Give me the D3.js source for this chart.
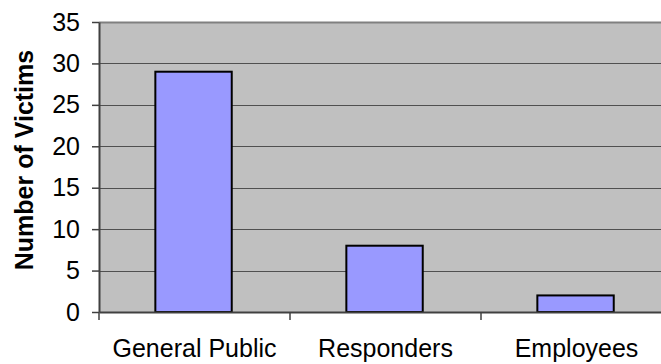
<!DOCTYPE html>
<html>
<head>
<meta charset="utf-8">
<script src="https://cdn.jsdelivr.net/npm/d3@7"></script>
<style>
  html, body { margin: 0; padding: 0; background: #fff; }
  svg { display: block; font-family: Arial, "Liberation Sans", sans-serif; }
</style>
</head>
<body>
<svg id="chart" width="661" height="364"></svg>
<script>
// Victims by group
const categories = ["General Public", "Responders", "Employees"];
const victims = [29, 8, 2];
const yTicks = [0, 5, 10, 15, 20, 25, 30, 35];

const svg = d3.select("#chart");
const plotLeft = 99, plotRight = 672, plotTop = 22, plotBottom = 312;
const fontSize = 25;

const x = d3.scaleBand().domain(categories).range([plotLeft, plotRight]).padding(0);
const y = d3.scaleLinear().domain([0, 35]).range([plotBottom, plotTop]);

// plot background
svg.append("rect")
  .attr("x", plotLeft).attr("y", plotTop)
  .attr("width", plotRight - plotLeft).attr("height", plotBottom - plotTop)
  .attr("fill", "#c0c0c0");

// top border
svg.append("line")
  .attr("x1", plotLeft).attr("x2", plotRight)
  .attr("y1", plotTop + 0.5).attr("y2", plotTop + 0.5)
  .attr("stroke", "#808080").attr("stroke-width", 2);

// horizontal gridlines
svg.append("g").selectAll("line")
  .data(yTicks.filter(d => d > 0 && d < 35))
  .join("line")
  .attr("x1", plotLeft).attr("x2", plotRight)
  .attr("y1", d => Math.round(y(d)) + 0.5).attr("y2", d => Math.round(y(d)) + 0.5)
  .attr("stroke", "#505050").attr("stroke-width", 1);

// bars
const bw = x.bandwidth();
svg.append("g").selectAll("rect")
  .data(categories.map((c, i) => ({ c, v: victims[i] })))
  .join("rect")
  .attr("x", d => x(d.c) + bw * 0.295)
  .attr("y", d => y(d.v))
  .attr("width", bw * 0.4)
  .attr("height", d => y(0) - y(d.v))
  .attr("fill", "#9999ff")
  .attr("stroke", "#000")
  .attr("stroke-width", 2);

// y axis
const yAxis = svg.append("g")
  .attr("transform", `translate(${plotLeft},0)`)
  .call(d3.axisLeft(y).tickValues(yTicks).tickSize(7).tickPadding(12).tickSizeOuter(0));
yAxis.select(".domain").attr("stroke", "#404040").attr("stroke-width", 2);
yAxis.selectAll(".tick line").attr("stroke", "#404040").attr("stroke-width", 1.5);
yAxis.selectAll(".tick text")
  .attr("font-size", fontSize).attr("fill", "#000")
  .attr("font-family", "Arial, 'Liberation Sans', sans-serif");

// x axis
const xAxis = svg.append("g")
  .attr("transform", `translate(0,${plotBottom})`)
  .call(d3.axisBottom(x).tickSize(0).tickPadding(27).tickSizeOuter(0));
xAxis.select(".domain").attr("stroke", "#404040").attr("stroke-width", 2);
xAxis.selectAll(".tick text")
  .attr("font-size", fontSize).attr("fill", "#000")
  .attr("font-family", "Arial, 'Liberation Sans', sans-serif");

// category separators on the x axis
svg.append("g").selectAll("line")
  .data(categories.map(c => x(c)).concat([plotRight]))
  .join("line")
  .attr("x1", d => d).attr("x2", d => d)
  .attr("y1", plotBottom).attr("y2", plotBottom + 8)
  .attr("stroke", "#404040").attr("stroke-width", 1.5);

// y axis title
svg.append("text")
  .attr("transform", `translate(33,160) rotate(-90)`)
  .attr("text-anchor", "middle")
  .attr("font-size", fontSize)
  .attr("font-weight", "bold")
  .attr("fill", "#000")
  .text("Number of Victims");
</script>
</body>
</html>
